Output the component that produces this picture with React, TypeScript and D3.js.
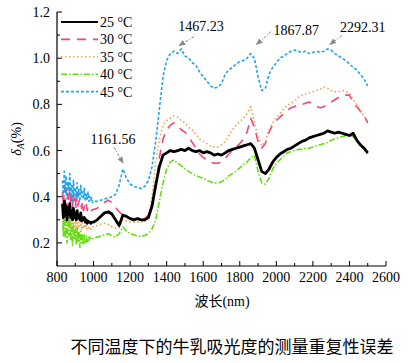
import React, { useEffect, useRef } from 'react';
import * as d3 from 'd3';

// wavelength grid (nm)
const wavelengths = [
  830, 835, 840, 845, 850, 855, 860, 865, 870, 875, 880, 885, 890, 895, 900, 905, 910, 915,
  920, 925, 930, 935, 940, 945, 950, 955, 960, 965, 970, 975, 980, 985, 990, 995, 1000,
  1020, 1040, 1060, 1080, 1100, 1120, 1140, 1160, 1180, 1200, 1220, 1240, 1260, 1280, 1300,
  1320, 1340, 1360, 1380, 1400, 1420, 1440, 1460, 1480, 1500, 1520, 1540, 1560, 1580, 1600,
  1620, 1640, 1660, 1680, 1700, 1720, 1740, 1760, 1780, 1800, 1820, 1840, 1860, 1880, 1900,
  1920, 1940, 1960, 1980, 2000, 2020, 2040, 2060, 2080, 2100, 2120, 2140, 2160, 2180, 2200,
  2220, 2240, 2260, 2280, 2300, 2320, 2340, 2360, 2380, 2400, 2420, 2440, 2460, 2480, 2500,
];

const t25 = [
  0.37, 0.31, 0.38, 0.32, 0.36, 0.30, 0.35, 0.32, 0.37, 0.31, 0.34, 0.30, 0.35, 0.31, 0.33, 0.30, 0.34, 0.31,
  0.32, 0.30, 0.33, 0.295, 0.31, 0.30, 0.31, 0.29, 0.30, 0.285, 0.295, 0.29, 0.29, 0.285, 0.29, 0.29, 0.29,
  0.30, 0.315, 0.33, 0.335, 0.325, 0.30, 0.275, 0.32, 0.315, 0.305, 0.30, 0.305, 0.30, 0.30, 0.31,
  0.36, 0.45, 0.53, 0.58, 0.59, 0.60, 0.595, 0.60, 0.605, 0.60, 0.61, 0.60, 0.595, 0.60, 0.59,
  0.595, 0.59, 0.58, 0.585, 0.58, 0.59, 0.60, 0.605, 0.61, 0.615, 0.62, 0.625, 0.63, 0.61, 0.56,
  0.51, 0.50, 0.52, 0.55, 0.57, 0.585, 0.595, 0.605, 0.61, 0.62, 0.63, 0.64, 0.645, 0.655, 0.66,
  0.665, 0.67, 0.675, 0.685, 0.68, 0.675, 0.68, 0.675, 0.67, 0.665, 0.675, 0.645, 0.625, 0.61, 0.59,
];

const t30 = [
  0.42, 0.36, 0.45, 0.37, 0.43, 0.35, 0.41, 0.38, 0.44, 0.36, 0.40, 0.35, 0.42, 0.37, 0.39, 0.35, 0.41, 0.36,
  0.38, 0.39, 0.37, 0.35, 0.38, 0.34, 0.36, 0.35, 0.37, 0.34, 0.35, 0.345, 0.34, 0.35, 0.34, 0.345, 0.345,
  0.35, 0.36, 0.375, 0.385, 0.375, 0.355, 0.335, 0.32, 0.31, 0.305, 0.305, 0.30, 0.305, 0.305, 0.32,
  0.37, 0.44, 0.57, 0.65, 0.69, 0.71, 0.72, 0.71, 0.69, 0.68, 0.66, 0.635, 0.61, 0.585, 0.57,
  0.56, 0.55, 0.545, 0.545, 0.55, 0.565, 0.585, 0.60, 0.615, 0.63, 0.65, 0.68, 0.74, 0.70, 0.64,
  0.61, 0.63, 0.68, 0.71, 0.73, 0.745, 0.76, 0.775, 0.785, 0.79, 0.80, 0.80, 0.805, 0.81, 0.80,
  0.79, 0.785, 0.79, 0.80, 0.81, 0.82, 0.83, 0.83, 0.84, 0.84, 0.81, 0.79, 0.77, 0.75, 0.72,
];

const t35 = [
  0.34, 0.26, 0.36, 0.27, 0.33, 0.25, 0.31, 0.28, 0.34, 0.26, 0.30, 0.25, 0.32, 0.27, 0.29, 0.255, 0.31, 0.26,
  0.29, 0.27, 0.28, 0.255, 0.285, 0.26, 0.28, 0.265, 0.275, 0.26, 0.27, 0.265, 0.27, 0.26, 0.27, 0.27, 0.27,
  0.275, 0.28, 0.285, 0.28, 0.27, 0.265, 0.265, 0.30, 0.295, 0.29, 0.29, 0.29, 0.29, 0.295, 0.31,
  0.40, 0.55, 0.65, 0.71, 0.73, 0.74, 0.75, 0.745, 0.73, 0.72, 0.70, 0.69, 0.67, 0.65, 0.64,
  0.63, 0.62, 0.615, 0.615, 0.625, 0.64, 0.665, 0.69, 0.71, 0.725, 0.74, 0.76, 0.79, 0.72, 0.66,
  0.62, 0.64, 0.69, 0.72, 0.745, 0.76, 0.78, 0.795, 0.805, 0.815, 0.83, 0.84, 0.845, 0.85, 0.855,
  0.86, 0.865, 0.875, 0.87, 0.86, 0.855, 0.855, 0.86, 0.855, 0.85, 0.82, 0.80, 0.775, 0.75, 0.73,
];

const t40 = [
  0.33, 0.23, 0.34, 0.22, 0.30, 0.20, 0.29, 0.23, 0.31, 0.21, 0.27, 0.19, 0.28, 0.22, 0.26, 0.19, 0.27, 0.20,
  0.25, 0.18, 0.25, 0.20, 0.24, 0.19, 0.235, 0.20, 0.23, 0.205, 0.225, 0.21, 0.225, 0.215, 0.22, 0.22, 0.22,
  0.225, 0.23, 0.235, 0.24, 0.23, 0.225, 0.24, 0.27, 0.25, 0.24, 0.235, 0.23, 0.228, 0.232, 0.24,
  0.26, 0.30, 0.38, 0.46, 0.52, 0.55, 0.56, 0.545, 0.535, 0.52, 0.51, 0.50, 0.49, 0.485, 0.48,
  0.47, 0.465, 0.46, 0.46, 0.465, 0.475, 0.49, 0.50, 0.51, 0.525, 0.54, 0.55, 0.57, 0.58, 0.51,
  0.46, 0.455, 0.48, 0.52, 0.545, 0.56, 0.575, 0.59, 0.595, 0.60, 0.605, 0.605, 0.61, 0.61, 0.615,
  0.62, 0.625, 0.63, 0.635, 0.645, 0.65, 0.655, 0.66, 0.665, 0.665, 0.66, 0.645, 0.62, 0.605, 0.585,
];

const t45 = [
  0.47, 0.40, 0.51, 0.42, 0.49, 0.39, 0.46, 0.43, 0.50, 0.40, 0.45, 0.38, 0.47, 0.41, 0.44, 0.39, 0.46, 0.40,
  0.43, 0.38, 0.45, 0.40, 0.42, 0.39, 0.44, 0.38, 0.41, 0.39, 0.42, 0.38, 0.40, 0.385, 0.395, 0.375, 0.38,
  0.38, 0.385, 0.39, 0.395, 0.40, 0.41, 0.45, 0.52, 0.48, 0.455, 0.445, 0.44, 0.435, 0.445, 0.47,
  0.53, 0.64, 0.78, 0.92, 0.99, 1.02, 1.03, 1.02, 1.04, 1.01, 1.00, 0.98, 0.97, 0.94, 0.92,
  0.90, 0.88, 0.87, 0.875, 0.89, 0.93, 0.95, 0.96, 0.975, 0.985, 0.99, 1.00, 1.02, 1.00, 0.92,
  0.86, 0.87, 0.93, 0.96, 0.98, 1.00, 1.01, 1.02, 1.03, 1.035, 1.03, 1.025, 1.03, 1.02, 1.025,
  1.03, 1.025, 1.03, 1.04, 1.035, 1.02, 1.01, 1.00, 0.99, 0.975, 0.96, 0.95, 0.93, 0.91, 0.88,
];

const seriesNames = ['25 °C', '30 °C', '35 °C', '40 °C', '45 °C'];
const seriesValues = [t25, t30, t35, t40, t45];
const seriesColors = ['#000000', '#f0457f', '#f4a04a', '#66dd11', '#1fa4ec'];
const seriesDash = ['', '9,7', '1.5,2.5', '6,2,1.5,2', '3,2'];
const seriesWidth = [2.8, 1.6, 1.6, 1.6, 1.6];

const xTicks = [800, 1000, 1200, 1400, 1600, 1800, 2000, 2200, 2400, 2600];
const yTicks = [0.2, 0.4, 0.6, 0.8, 1.0, 1.2];

const peakWl = [1161.56, 1467.23, 1867.87, 2292.31];
const peakVal = [0.545, 1.05, 1.05, 1.05];
const peakLabels = ['1161.56', '1467.23', '1867.87', '2292.31'];

const SERIF = '"Liberation Serif", "DejaVu Serif", serif';

const App: React.FC = () => {
  const ref = useRef<SVGSVGElement>(null);

  useEffect(() => {
    const svg = d3.select(ref.current);
    svg.selectAll('*').remove();

    const left = 57, right = 386, top = 12, bottom = 266;
    const x = d3.scaleLinear().domain([800, 2600]).range([left, right]);
    const y = d3.scaleLinear().domain([0.1, 1.2]).range([bottom, top]);

    const defs = svg.append('defs');
    defs.append('marker')
      .attr('id', 'arr')
      .attr('viewBox', '0 0 10 10')
      .attr('refX', 9).attr('refY', 5)
      .attr('markerWidth', 7).attr('markerHeight', 7)
      .attr('orient', 'auto')
      .append('path').attr('d', 'M0,1 L10,5 L0,9 z').attr('fill', '#8a8a8a');

    // series
    const line = d3.line<number>()
      .x((d, i) => x(wavelengths[i]))
      .y(d => y(d));

    [1, 2, 3, 4, 0].forEach(k => {
      svg.append('path')
        .attr('d', line(seriesValues[k]))
        .attr('fill', 'none')
        .attr('stroke', seriesColors[k])
        .attr('stroke-width', seriesWidth[k])
        .attr('stroke-dasharray', seriesDash[k] || null)
        .attr('stroke-linejoin', 'round');
    });

    // axes
    const xAxis = svg.append('g');
    xAxis.append('line')
      .attr('x1', left).attr('x2', right).attr('y1', bottom).attr('y2', bottom)
      .attr('stroke', '#000').attr('stroke-width', 1.2);
    d3.range(800, 2601, 100).forEach(v => {
      const major = v % 200 === 0;
      xAxis.append('line')
        .attr('x1', x(v)).attr('x2', x(v))
        .attr('y1', bottom).attr('y2', bottom - (major ? 5 : 3))
        .attr('stroke', '#000').attr('stroke-width', 1);
    });
    xTicks.forEach(v => {
      xAxis.append('text')
        .attr('x', x(v)).attr('y', bottom + 16)
        .attr('text-anchor', 'middle')
        .style('font-family', SERIF).style('font-size', '14px')
        .text(v);
    });

    const yAxis = svg.append('g');
    yAxis.append('line')
      .attr('x1', left).attr('x2', left).attr('y1', top).attr('y2', bottom)
      .attr('stroke', '#000').attr('stroke-width', 1.2);
    [0.2, 0.3, 0.4, 0.5, 0.6, 0.7, 0.8, 0.9, 1.0, 1.1, 1.2].forEach((v, i) => {
      const major = i % 2 === 0;
      yAxis.append('line')
        .attr('x1', left).attr('x2', left + (major ? 5 : 3))
        .attr('y1', y(v)).attr('y2', y(v))
        .attr('stroke', '#000').attr('stroke-width', 1);
    });
    yTicks.forEach(v => {
      yAxis.append('text')
        .attr('x', left - 7).attr('y', y(v) + 5)
        .attr('text-anchor', 'end')
        .style('font-family', SERIF).style('font-size', '14px')
        .text(v.toFixed(1));
    });

    // axis titles
    const yl = svg.append('text')
      .attr('transform', `translate(21,${(top + bottom) / 2}) rotate(-90)`)
      .attr('text-anchor', 'middle')
      .style('font-family', SERIF).style('font-size', '14px');
    yl.append('tspan').attr('font-style', 'italic').text('δ');
    yl.append('tspan').attr('font-style', 'italic').attr('font-size', 10).attr('dy', 3).text('A');
    yl.append('tspan').attr('dy', -3).text('(%)');

    svg.append('text')
      .attr('x', 222).attr('y', 306)
      .attr('text-anchor', 'middle')
      .style('font-family', '"Liberation Serif", "Noto Sans CJK SC", serif').style('font-size', '14px')
      .text('波长(nm)');

    svg.append('text')
      .attr('x', 232).attr('y', 353)
      .attr('text-anchor', 'middle')
      .style('font-family', '"Noto Sans CJK SC", sans-serif').style('font-size', '17px')
      .text('不同温度下的牛乳吸光度的测量重复性误差');

    // peak annotations
    const textOffset = [[-10, -19], [22, -16], [44, -12], [33, -15]];
    const arrowStart = [[-9, -16], [15, -10], [19, -15], [12, -11]];
    const arrowEnd = [[0, 0], [0, -1], [4, -2], [0, -2]];
    peakWl.forEach((wl, i) => {
      const px = x(wl), py = y(peakVal[i]);
      svg.append('line')
        .attr('x1', px + arrowStart[i][0]).attr('y1', py + arrowStart[i][1])
        .attr('x2', px + arrowEnd[i][0]).attr('y2', py + arrowEnd[i][1])
        .attr('stroke', '#8a8a8a').attr('stroke-width', 1)
        .attr('stroke-dasharray', '3,1.5,1,1.5')
        .attr('marker-end', 'url(#arr)');
      svg.append('text')
        .attr('x', px + textOffset[i][0]).attr('y', py + textOffset[i][1])
        .attr('text-anchor', 'middle')
        .style('font-family', SERIF).style('font-size', '14px')
        .text(peakLabels[i]);
    });

    // legend
    const legend = svg.append('g');
    seriesNames.forEach((name, i) => {
      const ly = 22 + i * 17.4;
      legend.append('line')
        .attr('x1', 61).attr('x2', 98).attr('y1', ly).attr('y2', ly)
        .attr('stroke', seriesColors[i])
        .attr('stroke-width', i === 0 ? 2.2 : 1.6)
        .attr('stroke-dasharray', seriesDash[i] || null);
      legend.append('text')
        .attr('x', 100).attr('y', ly + 5)
        .style('font-family', SERIF).style('font-size', '14px')
        .text(name);
    });
  }, []);

  return (
    <svg
      ref={ref}
      width={410}
      height={363}
      style={{ position: 'absolute', left: 0, top: 0, background: '#fff' }}
    />
  );
};

export default App;
